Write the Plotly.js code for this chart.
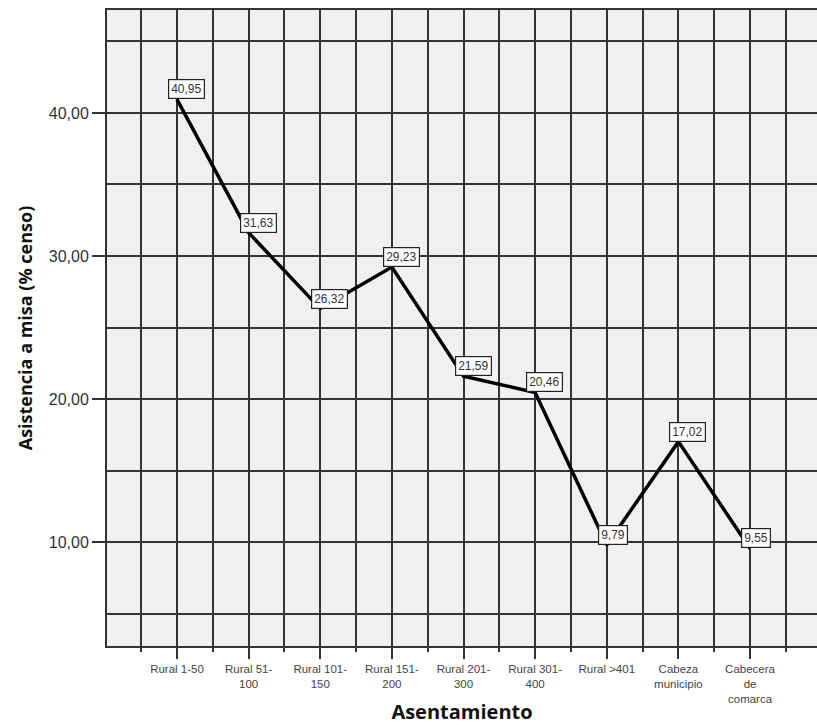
<!DOCTYPE html>
<html>
<head>
<meta charset="utf-8">
<script src="https://cdn.plot.ly/plotly-3.0.1.min.js"></script>
<style>html,body{margin:0;padding:0;background:#fff;}#chart{width:817px;height:725px;}</style>
</head>
<body>
<div id="chart"></div>
<script>
const categories = ["Rural 1-50", "Rural 51-<br>100", "Rural 101-<br>150", "Rural 151-<br>200", "Rural 201-<br>300", "Rural 301-<br>400", "Rural >401", "Cabeza<br>municipio", "Cabecera<br>de<br>comarca"];
const values = [40.95, 31.63, 26.32, 29.23, 21.59, 20.46, 9.79, 17.02, 9.55];
const yTicks = [10, 20, 30, 40];

const xIdx = categories.map((c, i) => i);
const minorX = [];
for (let i = 0; i <= categories.length; i++) minorX.push(i - 0.5);

const fmt = v => v.toFixed(2).replace('.', ',');

const trace = {
  x: xIdx,
  y: values,
  type: 'scatter',
  mode: 'lines',
  line: {color: '#000', width: 3.5},
  hoverinfo: 'skip'
};

const annotations = values.map((v, i) => ({
  x: i, y: v, xref: 'x', yref: 'y',
  text: fmt(v),
  showarrow: false,
  xanchor: 'left', yanchor: 'bottom',
  xshift: -9,
  bgcolor: '#ffffff',
  bordercolor: '#222',
  borderwidth: 1.2,
  borderpad: 2,
  font: {family: 'Liberation Sans, Arial, sans-serif', size: 12, color: '#333'}
}));

const gridColor = '#333333';
const gw = 2;

const layout = {
  width: 817, height: 725,
  margin: {l: 107, r: 0, t: 10, b: 79},
  paper_bgcolor: '#ffffff',
  plot_bgcolor: '#f0f0f0',
  separators: ',.',
  showlegend: false,
  font: {family: 'Liberation Sans, Arial, sans-serif', color: '#333'},
  xaxis: {
    range: [-0.977, 8.935],
    tickmode: 'array',
    tickvals: xIdx,
    ticktext: categories,
    ticks: 'outside', ticklen: 11, tickwidth: gw, tickcolor: gridColor,
    showgrid: true, gridcolor: gridColor, gridwidth: gw,
    showline: true, linecolor: '#333', linewidth: 2, mirror: true,
    zeroline: false,
    tickfont: {size: 11.5, color: '#444'},
    minor: {tickmode: 'array', tickvals: minorX, ticks: 'outside', ticklen: 4, tickwidth: gw, tickcolor: gridColor, showgrid: true, gridcolor: gridColor, gridwidth: gw},
    title: {text: '<b>Asentamiento</b>', font: {family: 'Open Sans, Noto Sans, sans-serif', size: 20, color: '#111'}, standoff: 14}
  },
  yaxis: {
    range: [2.73, 47.2],
    tickmode: 'array',
    tickvals: yTicks,
    tickformat: '.2f',
    ticks: 'outside', ticklen: 13, tickwidth: gw, tickcolor: gridColor,
    showgrid: true, gridcolor: gridColor, gridwidth: gw,
    showline: true, linecolor: '#333', linewidth: 2, mirror: true,
    zeroline: false,
    tickfont: {size: 16, color: '#333'},
    minor: {tickmode: 'linear', tick0: 0, dtick: 5, ticks: '', showgrid: true, gridcolor: gridColor, gridwidth: gw},
    title: {text: '<b>Asistencia a misa (% censo)</b>', font: {family: 'Open Sans, Noto Sans, sans-serif', size: 18, color: '#111'}, standoff: 11}
  },
  annotations: annotations
};

Plotly.newPlot('chart', [trace], layout, {displayModeBar: false, staticPlot: true});
</script>
</body>
</html>
